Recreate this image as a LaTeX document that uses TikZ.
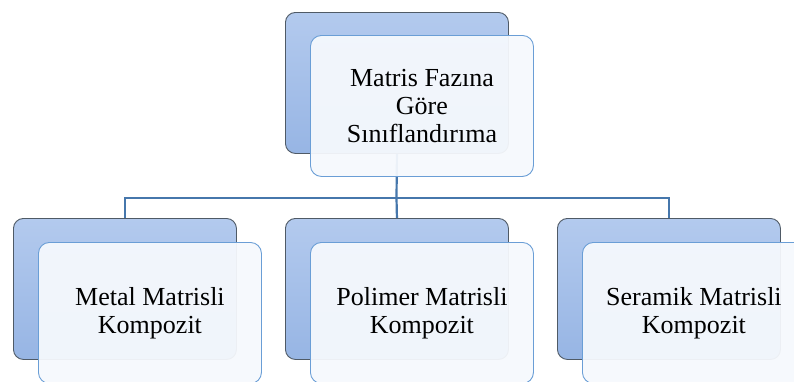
\documentclass[tikz,border=0pt]{standalone}
\usepackage{fontspec}
\setmainfont{Liberation Serif}
\definecolor{backedge}{HTML}{4F5A66}
\definecolor{backtop}{HTML}{B3CAEE}
\definecolor{backbot}{HTML}{97B5E4}
\definecolor{frontedge}{HTML}{6A9ED6}
\definecolor{frontfill}{HTML}{F6F9FD}
\definecolor{linkblue}{HTML}{4677AC}
\begin{document}
\begin{tikzpicture}[x=1pt,y=-1pt,
  backbox/.style={draw=backedge, line width=0.9pt, rounded corners=10pt,
    top color=backtop, bottom color=backbot,
    minimum width=223pt, minimum height=141pt, anchor=north west, inner sep=0pt},
  frontbox/.style={draw=frontedge, line width=0.9pt, rounded corners=11pt,
    fill=frontfill, fill opacity=0.94, text opacity=1,
    minimum width=223pt, minimum height=141pt, anchor=north west,
    align=center, inner sep=0pt, font=\fontsize{26}{28}\selectfont},
  link/.style={draw=linkblue, line width=2.2pt}]
  \clip (0,0) rectangle (794,381);
  \fill[white] (0,0) rectangle (794,381);

  % back panels
  \node[backbox] (topback) at (285,12) {};
  \node[backbox] (leftback) at (13,218) {};
  \node[backbox] (midback) at (285,218) {};
  \node[backbox] (rightback) at (557,218) {};

  % tree connectors
  \coordinate (bus) at (396.5,198);
  \draw[link] (topback.south) -- (bus);
  \draw[link] (leftback.north) |- (bus) -| (rightback.north);
  \draw[link] (bus) -- (midback.north);

  % front panels with labels
  \node[frontbox] (top) at (310,35) {Matris Faz\i na\\G\"ore\\S\i n\i fland\i r\i ma};
  \node[frontbox] (left) at (38,242) {Metal Matrisli\\Kompozit};
  \node[frontbox] (mid) at (310,242) {Polimer Matrisli\\Kompozit};
  \node[frontbox] (right) at (582,242) {Seramik Matrisli\\Kompozit};
\end{tikzpicture}
\end{document}
